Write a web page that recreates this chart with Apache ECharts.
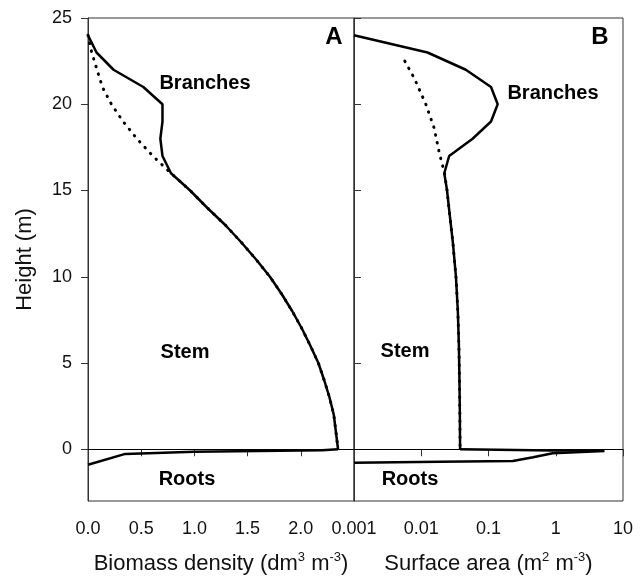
<!DOCTYPE html>
<html>
<head>
<meta charset="utf-8">
<script src="https://cdn.jsdelivr.net/npm/echarts@6/dist/echarts.min.js"></script>
<style>
  html, body { margin: 0; padding: 0; background: #fff; }
  #chart { width: 644px; height: 576px; }
</style>
</head>
<body>
<div id="chart"></div>
<script>
// heights (m) for stem profile, panel A
var stemHeightsA = [24, 23, 22, 21, 20, 19, 18, 17, 16, 15, 14, 13, 12, 11, 10, 9, 8, 7, 6, 5, 4, 3, 2, 1, 0];
var stemA = [0, 0.035, 0.085, 0.135, 0.22, 0.33, 0.46, 0.61, 0.78, 0.96, 1.12, 1.29, 1.44, 1.58, 1.71, 1.82, 1.92, 2.01, 2.09, 2.165, 2.22, 2.27, 2.31, 2.33, 2.35];

// crown: stem + branches
var crownHeights = [24, 23, 22, 21, 20, 19, 18, 17, 16];
var totalA = [0, 0.08, 0.24, 0.52, 0.70, 0.70, 0.68, 0.70, 0.78];
var totalB = [0.001, 0.0124, 0.046, 0.109, 0.137, 0.109, 0.058, 0.026, 0.022];

// stem surface area, panel B
var stemHeightsB = [22.5, 21.5, 20, 18.6, 17.2, 16, 15, 14, 12, 10, 8, 6, 4, 2, 0];
var stemB = [0.0057, 0.0079, 0.0117, 0.0156, 0.0185, 0.0222, 0.0242, 0.0258, 0.0295, 0.0328, 0.035, 0.0363, 0.037, 0.0375, 0.0378];

// roots
var rootDepthA = [0, -0.06, -0.15, -0.27, -0.9];
var rootA = [2.35, 2.2, 1.0, 0.35, 0];
var rootDepthB = [0, -0.07, -0.1, -0.23, -0.46, -0.68, -0.72, -0.78];
var rootB = [0.0378, 0.9, 5.3, 0.9, 0.46, 0.23, 0.019, 0.001];

var yTicks = [0, 5, 10, 15, 20, 25];
var xTicksA = [0, 0.5, 1.0, 1.5, 2.0];
var xTicksB = ['0.001', '0.01', '0.1', '1', '10'];

function pairs(xs, ys) {
  return xs.map(function (x, i) { return [x, ys[i]]; });
}

var solidA = pairs(totalA, crownHeights).concat(
  pairs(stemA, stemHeightsA).filter(function (p) { return p[1] < 16; }));
var solidB = pairs(totalB, crownHeights).concat(
  pairs(stemB, stemHeightsB).filter(function (p) { return p[1] < 16; }));

var font = 'Liberation Sans, Arial, sans-serif';
var axisColor = '#333';
var ink = '#000';

var zeroLine = {
  silent: true, symbol: 'none', label: { show: false },
  lineStyle: { color: ink, width: 1, type: 'solid' },
  data: [{ yAxis: 0 }]
};

function curve(data, xi, dotted, extra) {
  var s = {
    type: 'line', data: data, xAxisIndex: xi, yAxisIndex: xi,
    showSymbol: false, symbol: 'none', silent: true, animation: false,
    lineStyle: dotted
      ? { color: ink, width: 3, type: [0.5, 7.5], cap: 'round' }
      : { color: ink, width: 2.5 },
    z: dotted ? 2 : 3
  };
  if (extra) Object.assign(s, extra);
  return s;
}

function label(text, x, y, size) {
  return {
    type: 'text', x: x, y: y,
    style: { text: text, font: 'bold ' + size + 'px ' + font, fill: ink,
             align: 'center', verticalAlign: 'middle' }
  };
}

var nameRich = {
  n: { fontSize: 22, fontFamily: font, color: '#111', lineHeight: 26 },
  s: { fontSize: 13, fontFamily: font, color: '#111', verticalAlign: 'top', lineHeight: 26 }
};

var option = {
  backgroundColor: '#fff',
  animation: false,
  grid: [
    { left: 88, top: 18, width: 266, height: 483, outerBoundsMode: 'none', containLabel: false,
      show: true, borderColor: axisColor, borderWidth: 1 },
    { left: 354, top: 18, width: 269, height: 483, outerBoundsMode: 'none', containLabel: false,
      show: true, borderColor: axisColor, borderWidth: 1 }
  ],
  xAxis: [
    {
      type: 'value', gridIndex: 0, min: 0, max: 2.5,
      axisLine: { show: true, lineStyle: { color: axisColor } },
      axisTick: { show: true, length: 7, lineStyle: { color: axisColor }, customValues: xTicksA.concat([2.5]) },
      axisLabel: { fontSize: 18, fontFamily: font, color: '#111', margin: 19, customValues: xTicksA,
                   formatter: function (v) { return v.toFixed(1); } },
      splitLine: { show: false },
      name: '{n|Biomass density (dm}{s|3}{n| m}{s|-3}{n|)}',
      nameLocation: 'middle', nameGap: 50,
      nameTextStyle: { rich: nameRich }
    },
    {
      type: 'log', gridIndex: 1, min: 0.001, max: 10, logBase: 10,
      axisLine: { show: true, lineStyle: { color: axisColor } },
      axisTick: { show: true, length: 7, lineStyle: { color: axisColor } },
      minorTick: { show: false },
      axisLabel: { fontSize: 18, fontFamily: font, color: '#111', margin: 19, showMinLabel: true, showMaxLabel: true,
                   formatter: function (v) { return xTicksB[Math.round(Math.log10(v)) + 3] || ''; } },
      splitLine: { show: false },
      name: '{n|Surface area (m}{s|2}{n| m}{s|-3}{n|)}',
      nameLocation: 'middle', nameGap: 50,
      nameTextStyle: { rich: nameRich }
    }
  ],
  yAxis: [
    {
      type: 'value', gridIndex: 0, min: -3, max: 25,
      axisLine: { show: true, lineStyle: { color: axisColor } },
      axisTick: { show: true, length: 7, lineStyle: { color: axisColor }, customValues: yTicks },
      axisLabel: { fontSize: 18, fontFamily: font, color: '#111', margin: 16, customValues: yTicks },
      splitLine: { show: false },
      name: 'Height (m)', nameLocation: 'middle', nameGap: 52, nameRotate: 90,
      nameTextStyle: { fontSize: 22, fontFamily: font, color: '#111' }
    },
    {
      type: 'value', gridIndex: 1, min: -3, max: 25,
      axisLine: { show: true, lineStyle: { color: axisColor } },
      axisTick: { show: true, inside: true, length: 7, lineStyle: { color: axisColor }, customValues: yTicks },
      axisLabel: { show: false },
      splitLine: { show: false }
    }
  ],
  series: [
    curve(pairs(stemA, stemHeightsA), 0, true, { markLine: zeroLine }),
    curve(solidA, 0, false),
    curve(pairs(rootA, rootDepthA), 0, false),
    curve(pairs(stemB, stemHeightsB), 1, true, { markLine: zeroLine }),
    curve(solidB, 1, false),
    curve(pairs(rootB, rootDepthB), 1, false)
  ],
  graphic: [
    label('A', 334, 37, 24),
    label('B', 600, 37, 24),
    label('Branches', 205, 83, 20),
    label('Branches', 553, 93, 20),
    label('Stem', 185, 352, 20),
    label('Stem', 405, 351, 20),
    label('Roots', 187, 479, 20),
    label('Roots', 410, 479, 20)
  ]
};

var chart = echarts.init(document.getElementById('chart'), null, { renderer: 'canvas' });
chart.setOption(option);
</script>
</body>
</html>
